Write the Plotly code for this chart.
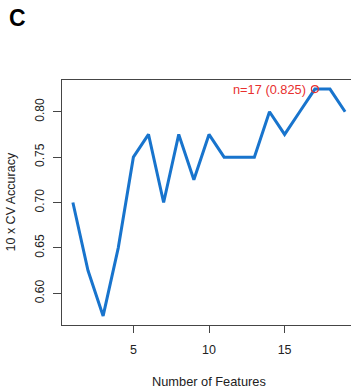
import plotly.graph_objects as go

# Cross-validated accuracy by number of selected features
n_features = list(range(1, 20))
cv_accuracy = [0.700, 0.625, 0.575, 0.650, 0.750, 0.775, 0.700, 0.775, 0.725, 0.775,
               0.750, 0.750, 0.750, 0.800, 0.775, 0.800, 0.825, 0.825, 0.800]
x_ticks = [5, 10, 15]
y_ticks = [0.60, 0.65, 0.70, 0.75, 0.80]

best_acc = max(cv_accuracy)
best_n = n_features[cv_accuracy.index(best_acc)]

FONT = "Arial, Liberation Sans, Helvetica, sans-serif"
AXIS_COLOR = "#454545"
TEXT_COLOR = "#222222"

fig = go.Figure()
fig.add_trace(go.Scatter(
    x=n_features, y=cv_accuracy, mode="lines",
    line=dict(color="#1874CD", width=3), hoverinfo="skip",
))
fig.add_trace(go.Scatter(
    x=[best_n], y=[best_acc], mode="markers",
    marker=dict(symbol="circle-open", size=7, color="#E8302F", line=dict(width=1.2)),
    hoverinfo="skip",
))

fig.add_annotation(
    x=best_n, y=best_acc, xref="x", yref="y",
    text=f"n={best_n} ({best_acc:.3f})", showarrow=False,
    xanchor="right", yanchor="middle", xshift=-7,
    font=dict(family=FONT, size=12.8, color="#E8302F"),
)

# Axis titles
fig.add_annotation(
    x=10, y=0, xref="x", yref="paper", text="Number of Features", showarrow=False,
    xanchor="center", yanchor="middle", yshift=-56,
    font=dict(family=FONT, size=12.8, color=TEXT_COLOR),
)
fig.add_annotation(
    x=0, y=0.5, xref="paper", yref="paper", text="10 x CV Accuracy", showarrow=False,
    textangle=-90, xanchor="center", yanchor="middle", xshift=-52,
    font=dict(family=FONT, size=12.5, color=TEXT_COLOR),
)

# Panel letter
fig.add_annotation(
    x=8, y=18.5, xref="paper", yref="paper", text="<b>C</b>", showarrow=False,
    font=dict(family=FONT, size=23, color="#000000"),
)
fig.layout.annotations[-1].update(xref="paper", yref="paper",
                                  x=8 / 351 - 62 / 289, y=1 + (80 - 18.5) / 245,
                                  xanchor="left", yanchor="middle")

fig.update_xaxes(
    range=[0.28, 19.39], tickvals=x_ticks, ticks="outside", ticklen=7, tickwidth=1,
    tickcolor=AXIS_COLOR, showline=True, linecolor=AXIS_COLOR, linewidth=1.2,
    mirror=True, showgrid=False, zeroline=False, ticklabelstandoff=6,
    tickfont=dict(family=FONT, size=12.5, color=TEXT_COLOR),
)
fig.update_yaxes(
    range=[0.565, 0.835], tickvals=y_ticks, ticktext=[f"{v:.2f}" for v in y_ticks],
    ticks="outside", ticklen=8, tickwidth=1, tickcolor=AXIS_COLOR, tickangle=-90,
    showline=True, linecolor=AXIS_COLOR, linewidth=1.2, showgrid=False, zeroline=False,
    ticklabelstandoff=4, tickfont=dict(family=FONT, size=12, color=TEXT_COLOR),
)

fig.update_layout(
    width=351, height=392, autosize=False,
    margin=dict(l=62, r=0, t=80, b=67, pad=0),
    paper_bgcolor="white", plot_bgcolor="white", showlegend=False,
)

fig.write_html("out.html")
